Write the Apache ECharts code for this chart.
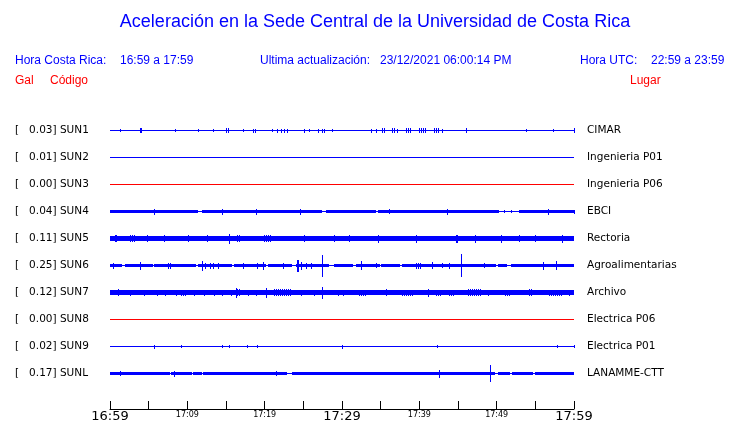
<!DOCTYPE html>
<html>
<head>
<meta charset="utf-8">
<script src="https://cdn.jsdelivr.net/npm/echarts@6/dist/echarts.min.js"></script>
<style>
html,body{margin:0;padding:0;background:#fff;}
#chart{width:740px;height:423px;}
</style>
</head>
<body>
<div id="chart"></div>
<script>
// ---------- data ----------
const titleText = 'Aceleración en la Sede Central de la Universidad de Costa Rica';
const localTimeLabel = 'Hora Costa Rica:';
const localTimeRange = '16:59 a 17:59';
const updateLabel = 'Ultima actualización:';
const updateValue = '23/12/2021 06:00:14 PM';
const utcLabel = 'Hora UTC:';
const utcRange = '22:59 a 23:59';
const colHeaders = ['Gal', 'Código', 'Lugar'];

const stationCodes = ['SUN1', 'SUN2', 'SUN3', 'SUN4', 'SUN5', 'SUN6', 'SUN7', 'SUN8', 'SUN9', 'SUNL'];
const stationGal = [0.03, 0.01, 0.00, 0.04, 0.11, 0.25, 0.12, 0.00, 0.02, 0.17];
const stationPlaces = ['CIMAR', 'Ingenieria P01', 'Ingenieria P06', 'EBCI', 'Rectoria',
  'Agroalimentarias', 'Archivo', 'Electrica P06', 'Electrica P01', 'LANAMME-CTT'];

const startHour = 16, startMinute = 59;   // 16:59
const spanMinutes = 60;
const tickStepMinutes = 5;
const bigLabelMinutes = [0, 30, 60];
const smallLabelMinutes = [10, 20, 40, 50];

// envelope (half-amplitude, relative units)
const baseAmp = [0.5, 0.5, 0.5, 1.5, 2.5, 1.7, 2.5, 0.5, 0.5, 1.7];

// quiet stretches [t0, t1] (minutes from start) where trace drops to a thin line
const quiet = [
  [],
  [],
  [],
  [[11.4, 11.9], [27.4, 28.0], [34.5, 34.7], [50.3, 52.9]],
  [],
  [[1.6, 2.0], [5.6, 5.8], [11.2, 11.5], [15.9, 16.1], [20.3, 20.5], [23.6, 24.1], [28.4, 29.0],
   [31.5, 31.9], [35.0, 35.1], [37.5, 37.8], [49.9, 50.3], [51.4, 51.9]],
  [],
  [],
  [],
  [[7.7, 8.0], [10.7, 10.8], [12.0, 12.1], [23.0, 23.6], [49.9, 50.3], [51.8, 52.1], [54.8, 55.0]]
];

// bursts [t0, t1, halfAmp]
const bursts = [
  // SUN1
  [[1.3, 1.3, 1.5], [4.0, 4.3, 2.5], [8.5, 8.5, 1.5], [11.4, 11.4, 1.5], [13.4, 13.4, 1.5], [15.0, 15.4, 2.5],
   [17.3, 17.3, 1.5], [18.6, 19.1, 2], [21.0, 21.0, 1.5], [21.7, 21.8, 2], [22.2, 22.2, 2], [22.6, 22.6, 2],
   [23.0, 23.0, 2], [25.2, 25.2, 2], [25.8, 25.8, 1.5], [27.0, 27.0, 2], [27.5, 28.0, 2], [28.8, 28.8, 1.5],
   [33.8, 33.8, 2], [34.5, 34.5, 2], [35.2, 35.6, 2.5], [36.5, 36.9, 2.5], [37.2, 37.2, 2], [38.3, 39.1, 2.5],
   [40.0, 40.9, 2.5], [42.0, 42.6, 2.5], [43.0, 43.0, 2], [46.1, 46.1, 2.5], [53.8, 53.8, 1.5], [57.4, 57.4, 1.5],
   [60, 60, 2.5]],
  // SUN2
  [],
  // SUN3
  [],
  // SUN4
  [[5.8, 5.8, 3], [14.5, 14.5, 3], [18.9, 18.9, 3], [24.6, 24.6, 3], [36.1, 36.1, 2.5], [43.7, 43.7, 3],
   [51.0, 51.1, 1.5], [51.9, 52.0, 1.5], [56.7, 56.7, 3], [60, 60, 2]],
  // SUN5
  [[0.7, 0.9, 3.5], [2.7, 3.5, 3.5], [4.9, 4.9, 3.5], [7.1, 7.1, 3.5], [10.1, 10.1, 3.5], [12.6, 12.6, 3.5],
   [15.5, 15.5, 5], [16.5, 17.0, 3.5], [20.0, 21.0, 3.5], [25.2, 25.2, 3.5], [29.0, 29.0, 3.5], [31.0, 31.0, 3.5],
   [34.7, 34.7, 4], [39.6, 39.6, 4], [44.8, 45.0, 4], [47.3, 47.3, 4], [50.6, 50.6, 4], [52.9, 52.9, 3.5],
   [55.0, 55.0, 3.5], [58.5, 58.5, 4]],
  // SUN6
  [[0.5, 0.5, 3], [4.0, 4.0, 4], [7.5, 7.9, 3], [11.9, 11.9, 5], [12.4, 12.4, 3], [13.0, 13.0, 3], [13.4, 13.4, 3],
   [14.0, 14.0, 3], [17.3, 17.3, 3], [19.1, 19.1, 3], [19.9, 19.9, 4], [22.4, 22.4, 3], [24.3, 24.6, 6],
   [24.8, 24.8, 4], [25.4, 25.4, 3], [26.1, 26.1, 3], [27.5, 27.5, 11], [32.5, 32.5, 4.5], [34.4, 34.4, 2.5],
   [39.6, 40.4, 3], [41.7, 41.7, 3.5], [43.0, 43.0, 2.5], [43.9, 43.9, 3], [45.5, 45.5, 11.5], [48.4, 48.4, 2.5],
   [56.1, 56.1, 4], [57.7, 57.7, 4.5]],
  // SUN7
  [[1.1, 1.1, 3.5], [2.7, 2.7, 3], [4.4, 4.4, 3], [6.2, 6.2, 3], [7.2, 7.2, 3], [8.6, 8.6, 3], [9.2, 9.9, 3],
   [10.9, 10.9, 3], [12.2, 12.2, 3], [13.5, 13.5, 3], [14.6, 14.6, 3], [15.7, 15.7, 3], [16.3, 16.3, 5],
   [16.5, 17.0, 3.5], [17.9, 17.9, 3], [18.9, 18.9, 3], [20.3, 20.3, 5], [21.3, 23.5, 3.5], [24.7, 24.7, 3],
   [26.4, 26.4, 3], [27.5, 27.5, 6], [29.5, 29.5, 3], [30.2, 30.2, 3], [32.3, 33.2, 3], [35.7, 35.7, 3.5],
   [37.8, 39.4, 3], [41.2, 41.2, 4], [42.2, 42.8, 3], [43.9, 44.5, 3], [46.4, 48.1, 3.5], [49.0, 49.0, 3],
   [51.2, 52.0, 3], [54.2, 54.6, 3.5], [56.8, 58.5, 3], [59.4, 59.4, 3]],
  // SUN8
  [],
  // SUN9
  [[5.8, 5.8, 2], [9.2, 9.2, 1.5], [14.5, 14.5, 1.5], [15.5, 15.5, 1.5], [17.8, 17.8, 1.5], [19.1, 19.1, 1.5],
   [30.1, 30.1, 2], [42.3, 42.3, 1.5], [57.9, 57.9, 1.5], [60, 60, 1.5]],
  // SUNL
  [[1.3, 1.3, 2.5], [8.4, 8.4, 3], [21.5, 21.5, 2.5], [42.6, 42.6, 4], [49.2, 49.2, 8.7]]
];

// ---------- build ----------
const AMP_PER_ROW = 27;  // relative amplitude units spanning one row
const BLUE = '#0000ff', RED = '#ff0000';
const FONT_HDR = 'Liberation Sans, Arial, sans-serif';
const FONT_LBL = 'DejaVu Sans, sans-serif';

function timeLabel(m) {
  const tot = startHour * 60 + startMinute + m;
  const h = Math.floor(tot / 60), mm = tot % 60;
  return h + ':' + String(mm).padStart(2, '0');
}

// kind: 0 = continuous band, 1 = burst cluster
const items = [];
stationCodes.forEach((code, r) => {
  items.push([0, spanMinutes, r, 0.5, 0]);
  if (baseAmp[r] > 0.5) {
    let t = 0;
    const q = quiet[r].slice().sort((a, b) => a[0] - b[0]);
    q.forEach(([a, b]) => { if (a > t) items.push([t, a, r, baseAmp[r], 0]); t = Math.max(t, b); });
    if (t < spanMinutes) items.push([t, spanMinutes, r, baseAmp[r], 0]);
  }
  bursts[r].forEach(([a, b, amp]) => items.push([a, b, r, amp, 1]));
});

const chart = echarts.init(document.getElementById('chart'), null, { renderer: 'canvas' });

function renderItem(params, api) {
  const t0 = api.value(0), t1 = api.value(1), row = api.value(2), amp = api.value(3), kind = api.value(4);
  const p0 = api.coord([t0, row]);
  const p1 = api.coord([t1, row]);
  const band = api.size([0, 1])[1];
  const h = band * amp / AMP_PER_ROW;
  const cy = p0[1];
  const y0 = Math.round(cy - h), y1 = Math.max(y0 + 1, Math.round(cy + h));
  const x0 = Math.floor(p0[0]);
  const w = Math.max(1, Math.round(p1[0] - p0[0]));
  const fill = stationGal[row] === 0 ? RED : BLUE;
  if (kind === 0 || w <= 2) {
    return {
      type: 'rect',
      shape: { x: x0, y: y0, width: w, height: y1 - y0 },
      style: { fill: fill },
      silent: true
    };
  }
  const children = [];
  for (let x = x0; x < x0 + w; x += 2) {
    children.push({ type: 'rect', shape: { x: x, y: y0, width: 1, height: y1 - y0 }, style: { fill: fill } });
  }
  return { type: 'group', children: children, silent: true };
}

const hdrY = 61, colY = 81;
const graphic = [
  { type: 'text', x: 375, y: 22, style: { text: titleText, fill: BLUE, font: '18px ' + FONT_HDR, textAlign: 'center', textVerticalAlign: 'middle' } },
  { type: 'text', x: 15, y: hdrY, style: { text: localTimeLabel, fill: BLUE, font: '12px ' + FONT_HDR, textVerticalAlign: 'middle' } },
  { type: 'text', x: 120, y: hdrY, style: { text: localTimeRange, fill: BLUE, font: '12px ' + FONT_HDR, textVerticalAlign: 'middle' } },
  { type: 'text', x: 260, y: hdrY, style: { text: updateLabel, fill: BLUE, font: '12px ' + FONT_HDR, textVerticalAlign: 'middle' } },
  { type: 'text', x: 380, y: hdrY, style: { text: updateValue, fill: BLUE, font: '12px ' + FONT_HDR, textVerticalAlign: 'middle' } },
  { type: 'text', x: 580, y: hdrY, style: { text: utcLabel, fill: BLUE, font: '12px ' + FONT_HDR, textVerticalAlign: 'middle' } },
  { type: 'text', x: 651, y: hdrY, style: { text: utcRange, fill: BLUE, font: '12px ' + FONT_HDR, textVerticalAlign: 'middle' } },
  { type: 'text', x: 15, y: colY, style: { text: colHeaders[0], fill: RED, font: '12px ' + FONT_HDR, textVerticalAlign: 'middle' } },
  { type: 'text', x: 50, y: colY, style: { text: colHeaders[1], fill: RED, font: '12px ' + FONT_HDR, textVerticalAlign: 'middle' } },
  { type: 'text', x: 630, y: colY, style: { text: colHeaders[2], fill: RED, font: '12px ' + FONT_HDR, textVerticalAlign: 'middle' } }
];

const option = {
  animation: false,
  backgroundColor: '#ffffff',
  graphic: graphic,
  grid: { left: 110, right: 166, top: 117, height: 270, containLabel: false },
  xAxis: {
    type: 'value', min: 0, max: spanMinutes, interval: tickStepMinutes, offset: 22,
    axisLine: { show: true, lineStyle: { color: '#000', width: 1 } },
    axisTick: { show: true, inside: true, length: 8, lineStyle: { color: '#000' } },
    splitLine: { show: false },
    axisLabel: {
      margin: 1, showMinLabel: true, showMaxLabel: true, color: '#000',
      formatter: function (v) {
        if (bigLabelMinutes.indexOf(v) >= 0) return '{big|' + timeLabel(v) + '}';
        if (smallLabelMinutes.indexOf(v) >= 0) return '{small|' + timeLabel(v) + '}';
        return '';
      },
      rich: {
        big: { fontSize: 13, fontFamily: FONT_LBL, lineHeight: 13, color: '#000' },
        small: { fontSize: 8, fontFamily: FONT_LBL, lineHeight: 10, color: '#000' }
      }
    }
  },
  yAxis: [
    {
      type: 'category', data: stationCodes, inverse: true, position: 'left',
      axisLine: { show: false }, axisTick: { show: false }, splitLine: { show: false },
      axisLabel: {
        interval: 0, align: 'left', margin: 95, color: '#000', fontSize: 10.5, fontFamily: FONT_LBL,
        formatter: function (v, i) { return '[   ' + stationGal[i].toFixed(2) + '] ' + v; }
      }
    },
    {
      type: 'category', data: stationPlaces, inverse: true, position: 'right',
      axisLine: { show: false }, axisTick: { show: false }, splitLine: { show: false },
      axisLabel: { interval: 0, align: 'left', margin: 13, color: '#000', fontSize: 10.5, fontFamily: FONT_LBL }
    }
  ],
  series: [{
    type: 'custom',
    coordinateSystem: 'cartesian2d',
    xAxisIndex: 0, yAxisIndex: 0,
    renderItem: renderItem,
    data: items,
    clip: false,
    silent: true
  }]
};
chart.setOption(option);
</script>
</body>
</html>
